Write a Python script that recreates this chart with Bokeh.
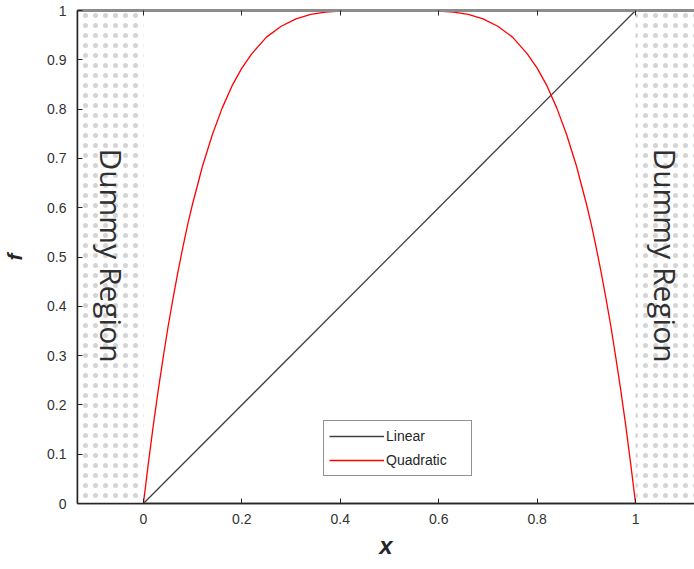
from bokeh.plotting import figure
from bokeh.models import Range1d, LinearAxis, FixedTicker, Legend, LegendItem
from bokeh.core.properties import value
from bokeh.embed import file_html
from bokeh.resources import INLINE
import math

# ---- data ----
x_lin = [0.0, 1.0]
f_lin = [0.0, 1.0]

x_quad = [0.0, 0.01, 0.02, 0.03, 0.04, 0.05, 0.06, 0.07, 0.08, 0.09, 0.10, 0.12, 0.14,
          0.16, 0.18, 0.20, 0.22, 0.25, 0.28, 0.31, 0.34, 0.37, 0.40, 0.45, 0.50,
          0.55, 0.60, 0.63, 0.66, 0.69, 0.72, 0.75, 0.78, 0.80, 0.82, 0.84, 0.86,
          0.88, 0.90, 0.91, 0.92, 0.93, 0.94, 0.95, 0.96, 0.97, 0.98, 0.99, 1.0]
f_quad = [0.0, 0.081, 0.158, 0.229, 0.295, 0.358, 0.415, 0.469, 0.519, 0.566, 0.608, 0.684, 0.748,
          0.802, 0.847, 0.883, 0.912, 0.946, 0.968, 0.983, 0.992, 0.9965, 0.999, 1.0, 1.0,
          1.0, 0.999, 0.9965, 0.992, 0.983, 0.968, 0.946, 0.912, 0.883, 0.847, 0.802, 0.748,
          0.684, 0.608, 0.566, 0.519, 0.469, 0.415, 0.358, 0.295, 0.229, 0.158, 0.081, 0.0]

x_ticks = [0, 0.2, 0.4, 0.6, 0.8, 1]
y_ticks = [0, 0.1, 0.2, 0.3, 0.4, 0.5, 0.6, 0.7, 0.8, 0.9, 1]

region_left = [-0.3, 1.0]
region_right = [0.0, 1.3]
region_bottom = [0.0, 0.0]
region_top = [1.0, 1.0]
region_text = ["Dummy Region", "Dummy Region"]
region_text_x = [-0.065, 1.061]
region_text_y = [0.503, 0.503]

series_names = ["Linear", "Quadratic"]
series_colors = ["#404040", "#ff0000"]

# ---- figure ----
p = figure(width=694, height=569, output_backend="svg", toolbar_location=None,
           x_range=Range1d(-0.1339, 1.1197), y_range=Range1d(0, 1),
           min_border_left=76, min_border_right=0, min_border_top=10, min_border_bottom=66)
p.background_fill_color = "white"
p.border_fill_color = "white"
p.grid.visible = False
p.outline_line_color = "#8c8c8c"
p.outline_line_width = 2

# dummy regions
p.quad(left=region_left, right=region_right, bottom=region_bottom, top=region_top,
       fill_color="white", line_color=None,
       hatch_pattern="dot", hatch_color="#d4d4d4", hatch_scale=10, hatch_weight=6)

p.text(x=region_text_x, y=region_text_y, text=region_text, angle=-math.pi / 2,
       text_align="center", text_baseline="middle",
       text_font=value("Open Sans"), text_font_size="30px", text_color="#303030")

r_lin = p.line(x_lin, f_lin, line_color=series_colors[0], line_width=1.3)
r_quad = p.line(x_quad, f_quad, line_color=series_colors[1], line_width=1.3)

# axes
tick_font = "Liberation Sans"
for ax in (p.xaxis[0], p.yaxis[0]):
    ax.major_tick_in = 5
    ax.major_tick_out = 0
    ax.minor_tick_in = 0
    ax.minor_tick_out = 0
    ax.axis_line_color = "#262626"
    ax.axis_line_width = 1.5
    ax.major_tick_line_color = "#262626"
    ax.major_label_text_font = tick_font
    ax.major_label_text_font_size = "14px"
    ax.major_label_text_color = "#333333"
    ax.axis_label_text_font = tick_font
    ax.axis_label_text_font_style = "bold italic"
    ax.axis_label_text_color = "#262626"

p.xaxis[0].ticker = FixedTicker(ticks=x_ticks)
p.xaxis[0].major_label_overrides = {0: "0", 1: "1"}
p.xaxis[0].axis_label = "x"
p.xaxis[0].axis_label_text_font_size = "24px"
p.xaxis[0].major_label_standoff = 10
p.xaxis[0].axis_label_standoff = 5

p.yaxis[0].ticker = FixedTicker(ticks=y_ticks)
p.yaxis[0].major_label_overrides = {0: "0", 1: "1"}
p.yaxis[0].axis_label = "f"
p.yaxis[0].axis_label_text_font_size = "21px"
p.yaxis[0].major_label_standoff = 11
p.yaxis[0].axis_label_standoff = 18

top_axis = LinearAxis(ticker=FixedTicker(ticks=x_ticks),
                      major_label_overrides={t: "" for t in x_ticks},
                      major_label_standoff=0, major_tick_in=5, major_tick_out=0,
                      minor_tick_in=0, minor_tick_out=0,
                      axis_line_color="#8c8c8c", axis_line_width=3,
                      major_tick_line_color="#262626")
p.add_layout(top_axis, "above")

legend = Legend(items=[LegendItem(label=series_names[0], renderers=[r_lin]),
                       LegendItem(label=series_names[1], renderers=[r_quad])],
                location=(246, 27), orientation="vertical",
                padding=5, spacing=4, margin=0,
                glyph_width=55, glyph_height=20, label_height=20, label_width=80,
                label_standoff=2,
                label_text_font=tick_font, label_text_font_size="14px",
                label_text_color="#262626",
                border_line_color="#262626", border_line_width=1.3,
                background_fill_color="white", background_fill_alpha=1)
p.add_layout(legend)

open("out.html", "w").write(file_html(p, INLINE))
